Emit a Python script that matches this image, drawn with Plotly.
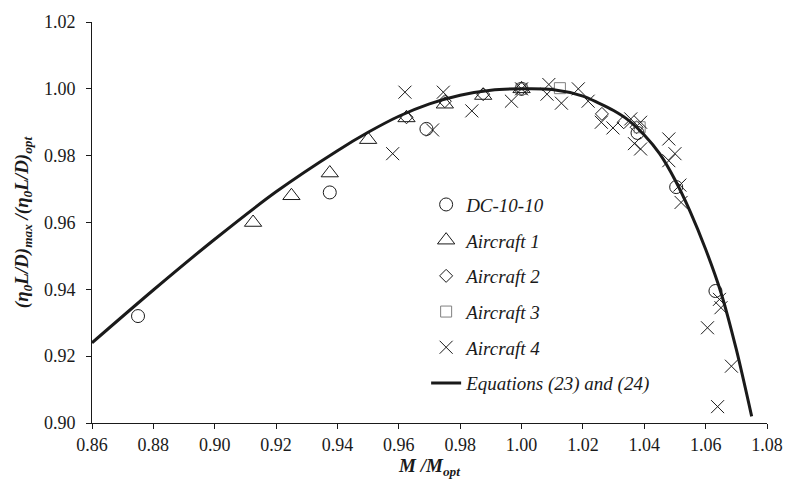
import plotly.graph_objects as go

# ---- data ----
dc10_x = [0.875, 0.9375, 0.969, 1.000, 1.0378, 1.0504, 1.0632]
dc10_y = [0.932, 0.969, 0.988, 1.000, 0.9868, 0.9706, 0.9395]

ac1_x = [0.9125, 0.925, 0.9375, 0.950, 0.9625, 0.975, 0.9875, 1.000]
ac1_y = [0.960, 0.968, 0.9748, 0.9848, 0.9913, 0.9954, 0.998, 1.000]

ac2_x = [0.9625, 0.975, 0.9875, 1.000, 1.0262, 1.0333, 1.0375]
ac2_y = [0.9915, 0.9963, 0.9984, 1.000, 0.9925, 0.990, 0.9885]

ac3_x = [1.000, 1.0125, 1.0385]
ac3_y = [1.000, 1.0002, 0.9885]

ac4_x = [0.958, 0.962, 0.971, 0.9745, 0.9838, 0.9967, 1.000, 1.0089, 1.0083,
         1.013, 1.0185, 1.0217, 1.026, 1.0298, 1.0356, 1.0388, 1.0368, 1.0388,
         1.048, 1.050, 1.048, 1.0516, 1.052, 1.0645, 1.065, 1.0606, 1.0684, 1.0639]
ac4_y = [0.9806, 0.999, 0.9877, 0.999, 0.9934, 0.9963, 1.000, 1.0013, 0.9984,
         0.9957, 1.000, 0.9963, 0.990, 0.9883, 0.991, 0.990, 0.9836, 0.982,
         0.985, 0.9806, 0.9785, 0.9712, 0.966, 0.937, 0.9345, 0.9285, 0.917, 0.9049]

eq_x = [0.86, 0.88, 0.90, 0.92, 0.94, 0.95, 0.96, 0.97, 0.98, 0.99, 1.00,
        1.01, 1.02, 1.025, 1.03, 1.035, 1.04, 1.045, 1.05, 1.055, 1.06, 1.065, 1.07, 1.075]
eq_y = [0.9240, 0.9398, 0.9550, 0.9692, 0.9815, 0.9870, 0.9918, 0.9955, 0.9981, 0.9996, 1.0000,
        0.9998, 0.9978, 0.9958, 0.9935, 0.9905, 0.9862, 0.9806, 0.9728, 0.9632, 0.9520, 0.9390, 0.9220, 0.9020]

x_ticks = [0.86, 0.88, 0.90, 0.92, 0.94, 0.96, 0.98, 1.00, 1.02, 1.04, 1.06, 1.08]
y_ticks = [0.90, 0.92, 0.94, 0.96, 0.98, 1.00, 1.02]

FONT = "Liberation Serif, Times New Roman, serif"
INK = "#1a1a1a"

fig = go.Figure()

def add_markers(x, y, name, symbol, size, color, rank):
    fig.add_trace(go.Scatter(
        x=x, y=y, mode="markers", name=f"<i>{name}</i>",
        legendgroup=name, legendrank=rank,
        marker=dict(symbol=symbol, size=size, color=color,
                    line=dict(width=1, color=color)),
    ))

add_markers(dc10_x, dc10_y, "DC-10-10", "circle-open", 13, INK, 1)
add_markers(ac1_x, ac1_y, "Aircraft 1", "triangle-up-open", 15, INK, 2)
add_markers(ac2_x, ac2_y, "Aircraft 2", "diamond-open", 10, INK, 3)
add_markers(ac3_x, ac3_y, "Aircraft 3", "square-open", 11, "#808080", 4)
add_markers(ac4_x, ac4_y, "Aircraft 4", "x-thin-open", 13, INK, 5)

fig.add_trace(go.Scatter(
    x=eq_x, y=eq_y, mode="lines", name="<i>Equations (23) and (24)</i>",
    legendgroup="eq", legendrank=6,
    line=dict(color=INK, width=3, shape="spline", smoothing=0.8),
))

fig.update_layout(
    width=795, height=484,
    margin=dict(l=92, r=22, t=20, b=59),
    paper_bgcolor="white", plot_bgcolor="white",
    font=dict(family=FONT, size=18, color=INK),
    showlegend=True,
    legend=dict(
        x=0.495, y=0.592, xanchor="left", yanchor="top",
        bgcolor="rgba(0,0,0,0)", font=dict(family=FONT, size=19, color=INK),
        tracegroupgap=8, itemwidth=30,
    ),
    xaxis=dict(
        range=[0.86, 1.08], tickvals=x_ticks, tickformat=".2f",
        showline=True, linecolor=INK, linewidth=1, mirror=False,
        ticks="outside", ticklen=5, tickcolor=INK, showgrid=False, zeroline=False,
        title=dict(text="<b><i>M /M<sub>opt</sub></i></b>", font=dict(size=19), standoff=4),
    ),
    yaxis=dict(
        range=[0.90, 1.02], tickvals=y_ticks, tickformat=".2f",
        showline=True, linecolor=INK, linewidth=1, mirror=False,
        ticks="outside", ticklen=5, tickcolor=INK, showgrid=False, zeroline=False,
        ticklabelstandoff=7,
        title=dict(text="<b><i>(η<sub>0</sub>L/D)<sub>max</sub> /(η<sub>0</sub>L/D)<sub>opt</sub></i></b>",
                   font=dict(size=19), standoff=10),
    ),
)

fig.write_html(
    "out.html",
    config={"displayModeBar": False},
    post_script="document.body.style.margin='0';document.body.style.padding='0';",
)
